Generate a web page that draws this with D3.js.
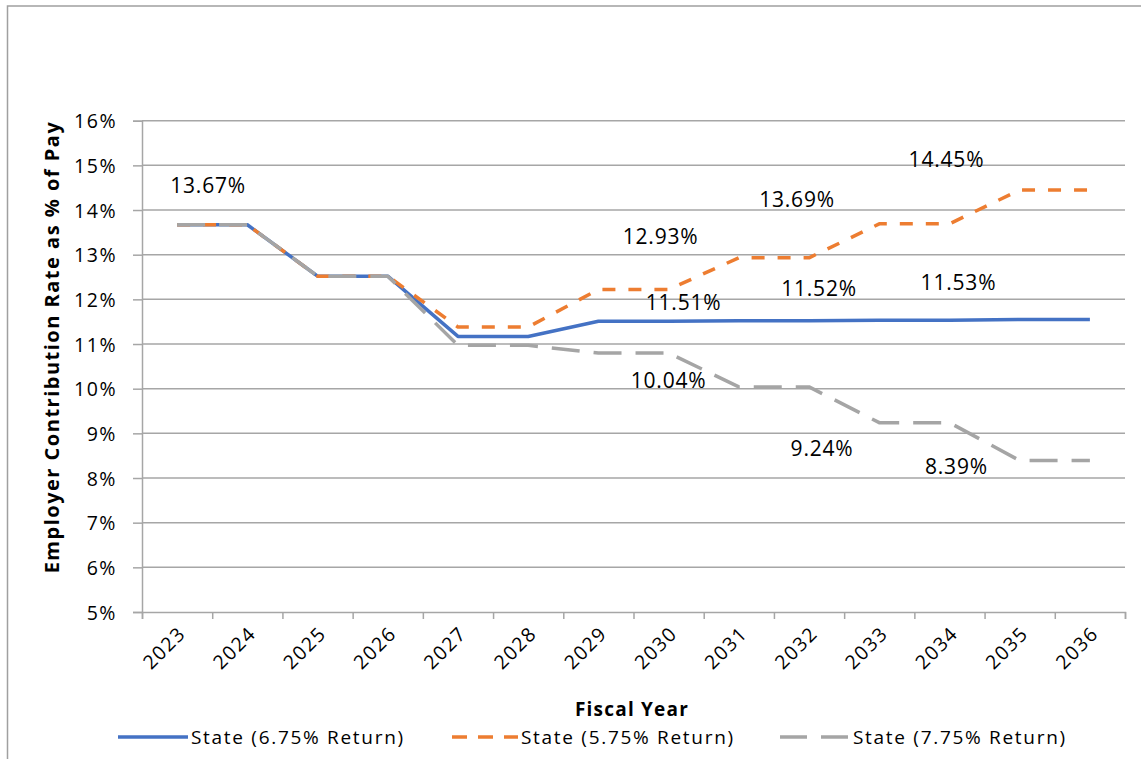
<!DOCTYPE html>
<html>
<head>
<meta charset="utf-8">
<script src="https://cdn.jsdelivr.net/npm/d3@7"></script>
<style>
  body { margin: 0; background: #fff; }
  svg { display: block; }
  text { font-family: "Open Sans", sans-serif; fill: #000; }
</style>
</head>
<body>
<div id="chart"></div>
<script>
// chart values
var years = [2023, 2024, 2025, 2026, 2027, 2028, 2029, 2030, 2031, 2032, 2033, 2034, 2035, 2036];
var state675 = [13.67, 13.67, 12.52, 12.52, 11.17, 11.17, 11.51, 11.51, 11.52, 11.52, 11.53, 11.53, 11.55, 11.55];
var state575 = [13.67, 13.67, 12.52, 12.52, 11.38, 11.38, 12.22, 12.22, 12.93, 12.93, 13.69, 13.69, 14.45, 14.45];
var state775 = [13.67, 13.67, 12.52, 12.52, 10.97, 10.97, 10.80, 10.80, 10.04, 10.04, 9.24, 9.24, 8.39, 8.39];
var seriesNames = ["State (6.75% Return)", "State (5.75% Return)", "State (7.75% Return)"];
var yTicks = [5, 6, 7, 8, 9, 10, 11, 12, 13, 14, 15, 16];

// data labels: which series, which year, what text
var labelSeries = [0, 1, 1, 1, 0, 0, 0, 2, 2, 2];
var labelYears = [2023, 2030, 2032, 2034, 2030, 2032, 2034, 2030, 2032, 2034];
var labelTexts = ["13.67%", "12.93%", "13.69%", "14.45%", "11.51%", "11.52%", "11.53%", "10.04%", "9.24%", "8.39%"];

// label nudges (px) from their anchor point, like dragged excel labels
var labelNudge = [[31, -39], [-8, -53], [-12, -58], [-3, -64], [15, -19], [10, -32], [9, -38], [0, 27], [13, 62], [7, 44]];

var W = 1141, H = 759;
// note: "top" clashes with window.top, so prefixed names
var plotL = 142, plotR = 1125, plotT = 120.7, plotB = 612;

var colors = ["#4472C4", "#ED7D31", "#A5A5A5"];
var dashes = [null, "13,13", "28,14"];
var seriesVals = [state675, state575, state775];

var svg = d3.select("#chart").append("svg")
  .attr("width", W).attr("height", H);

// outer chart border (only top + left show in the crop)
svg.append("rect")
  .attr("x", 7.5).attr("y", 6)
  .attr("width", W + 20).attr("height", H + 20)
  .attr("fill", "none").attr("stroke", "#a0a0a0").attr("stroke-width", 1.5);

var x = d3.scaleBand().domain(years).range([plotL, plotR]);
var xEdge = d3.scaleLinear().domain([0, years.length]).range([plotL, plotR]);
var y = d3.scaleLinear().domain([5, 16]).range([plotB, plotT]);
var cx = d => x(d) + x.bandwidth() / 2;

// gridlines
svg.append("g")
  .selectAll("line")
  .data(yTicks.slice(1))
  .enter()
  .append("line")
  .attr("x1", plotL).attr("x2", plotR)
  .attr("y1", d => y(d)).attr("y2", d => y(d))
  .attr("stroke", "#a6a6a6").attr("stroke-width", 1.5);

// y axis
var yAxis = svg.append("g")
  .attr("transform", "translate(" + plotL + ",0)")
  .call(d3.axisLeft(y).tickValues(yTicks).tickFormat(d => d + "%").tickSize(9).tickPadding(16));
yAxis.selectAll("line").attr("stroke", "#a6a6a6").attr("stroke-width", 1.5);
yAxis.select(".domain").attr("stroke", "#a6a6a6").attr("stroke-width", 1.5);
yAxis.selectAll("text")
  .style("font-family", "'Open Sans', sans-serif")
  .style("font-size", "19.5px").style("letter-spacing", "1.5px")
  .attr("dy", "0.36em");

// x axis: ticks on category edges
var xAxis = svg.append("g")
  .attr("transform", "translate(0," + plotB + ")")
  .call(d3.axisBottom(xEdge).ticks(years.length).tickFormat("").tickSize(7).tickSizeOuter(7));
xAxis.selectAll("line").attr("stroke", "#a6a6a6").attr("stroke-width", 1.5);
xAxis.select(".domain").attr("stroke", "#a6a6a6").attr("stroke-width", 1.5);

// x labels rotated
svg.append("g")
  .selectAll("text")
  .data(years)
  .enter()
  .append("text")
  .attr("transform", d => "translate(" + (cx(d) + 5) + "," + (plotB + 18) + ") rotate(-45)")
  .attr("text-anchor", "end")
  .attr("dy", "0.35em")
  .style("font-size", "19.5px").style("letter-spacing", "1.5px")
  .text(d => d);

// lines
var line = d3.line()
  .x((d, i) => cx(years[i]))
  .y(d => y(d));

svg.append("g")
  .selectAll("path")
  .data(seriesVals)
  .enter()
  .append("path")
  .attr("d", d => line(d))
  .attr("fill", "none")
  .attr("stroke", (d, i) => colors[i])
  .attr("stroke-width", 3.5)
  .attr("stroke-linejoin", "round")
  .attr("stroke-dasharray", (d, i) => dashes[i]);

// data labels
svg.append("g")
  .selectAll("text")
  .data(labelTexts)
  .enter()
  .append("text")
  .attr("x", (d, i) => cx(labelYears[i]) + labelNudge[i][0])
  .attr("y", (d, i) => y(seriesVals[labelSeries[i]][years.indexOf(labelYears[i])]) + labelNudge[i][1])
  .attr("text-anchor", "middle")
  .attr("dy", "0.36em")
  .style("font-size", "21px").style("letter-spacing", "0.8px")
  .text(d => d);

// axis titles
svg.append("text")
  .attr("transform", "translate(52,347) rotate(-90)")
  .attr("text-anchor", "middle")
  .attr("dy", "0.36em")
  .style("font-size", "20px").style("font-weight", "bold").style("letter-spacing", "1.5px")
  .text("Employer Contribution Rate as % of Pay");

svg.append("text")
  .attr("x", 632).attr("y", 709)
  .attr("text-anchor", "middle")
  .attr("dy", "0.36em")
  .style("font-size", "19px").style("font-weight", "bold").style("letter-spacing", "1.2px")
  .text("Fiscal Year");

// legend
var legendX = [118, 448, 780];
var leg = svg.append("g")
  .selectAll("g")
  .data(seriesNames)
  .enter()
  .append("g")
  .attr("transform", (d, i) => "translate(" + legendX[i] + ",737)");
leg.append("line")
  .attr("x1", 0).attr("x2", 70)
  .attr("stroke", (d, i) => colors[i])
  .attr("stroke-width", 3.5)
  .attr("stroke-dasharray", (d, i) => dashes[i] ? (i == 1 ? "15,11" : "27,14") : null)
  .attr("stroke-dashoffset", (d, i) => i == 1 ? -4 : 0);
leg.append("text")
  .attr("x", 73)
  .attr("dy", "0.36em")
  .style("font-size", "19px").style("letter-spacing", "1.7px")
  .text(d => d);
</script>
</body>
</html>
